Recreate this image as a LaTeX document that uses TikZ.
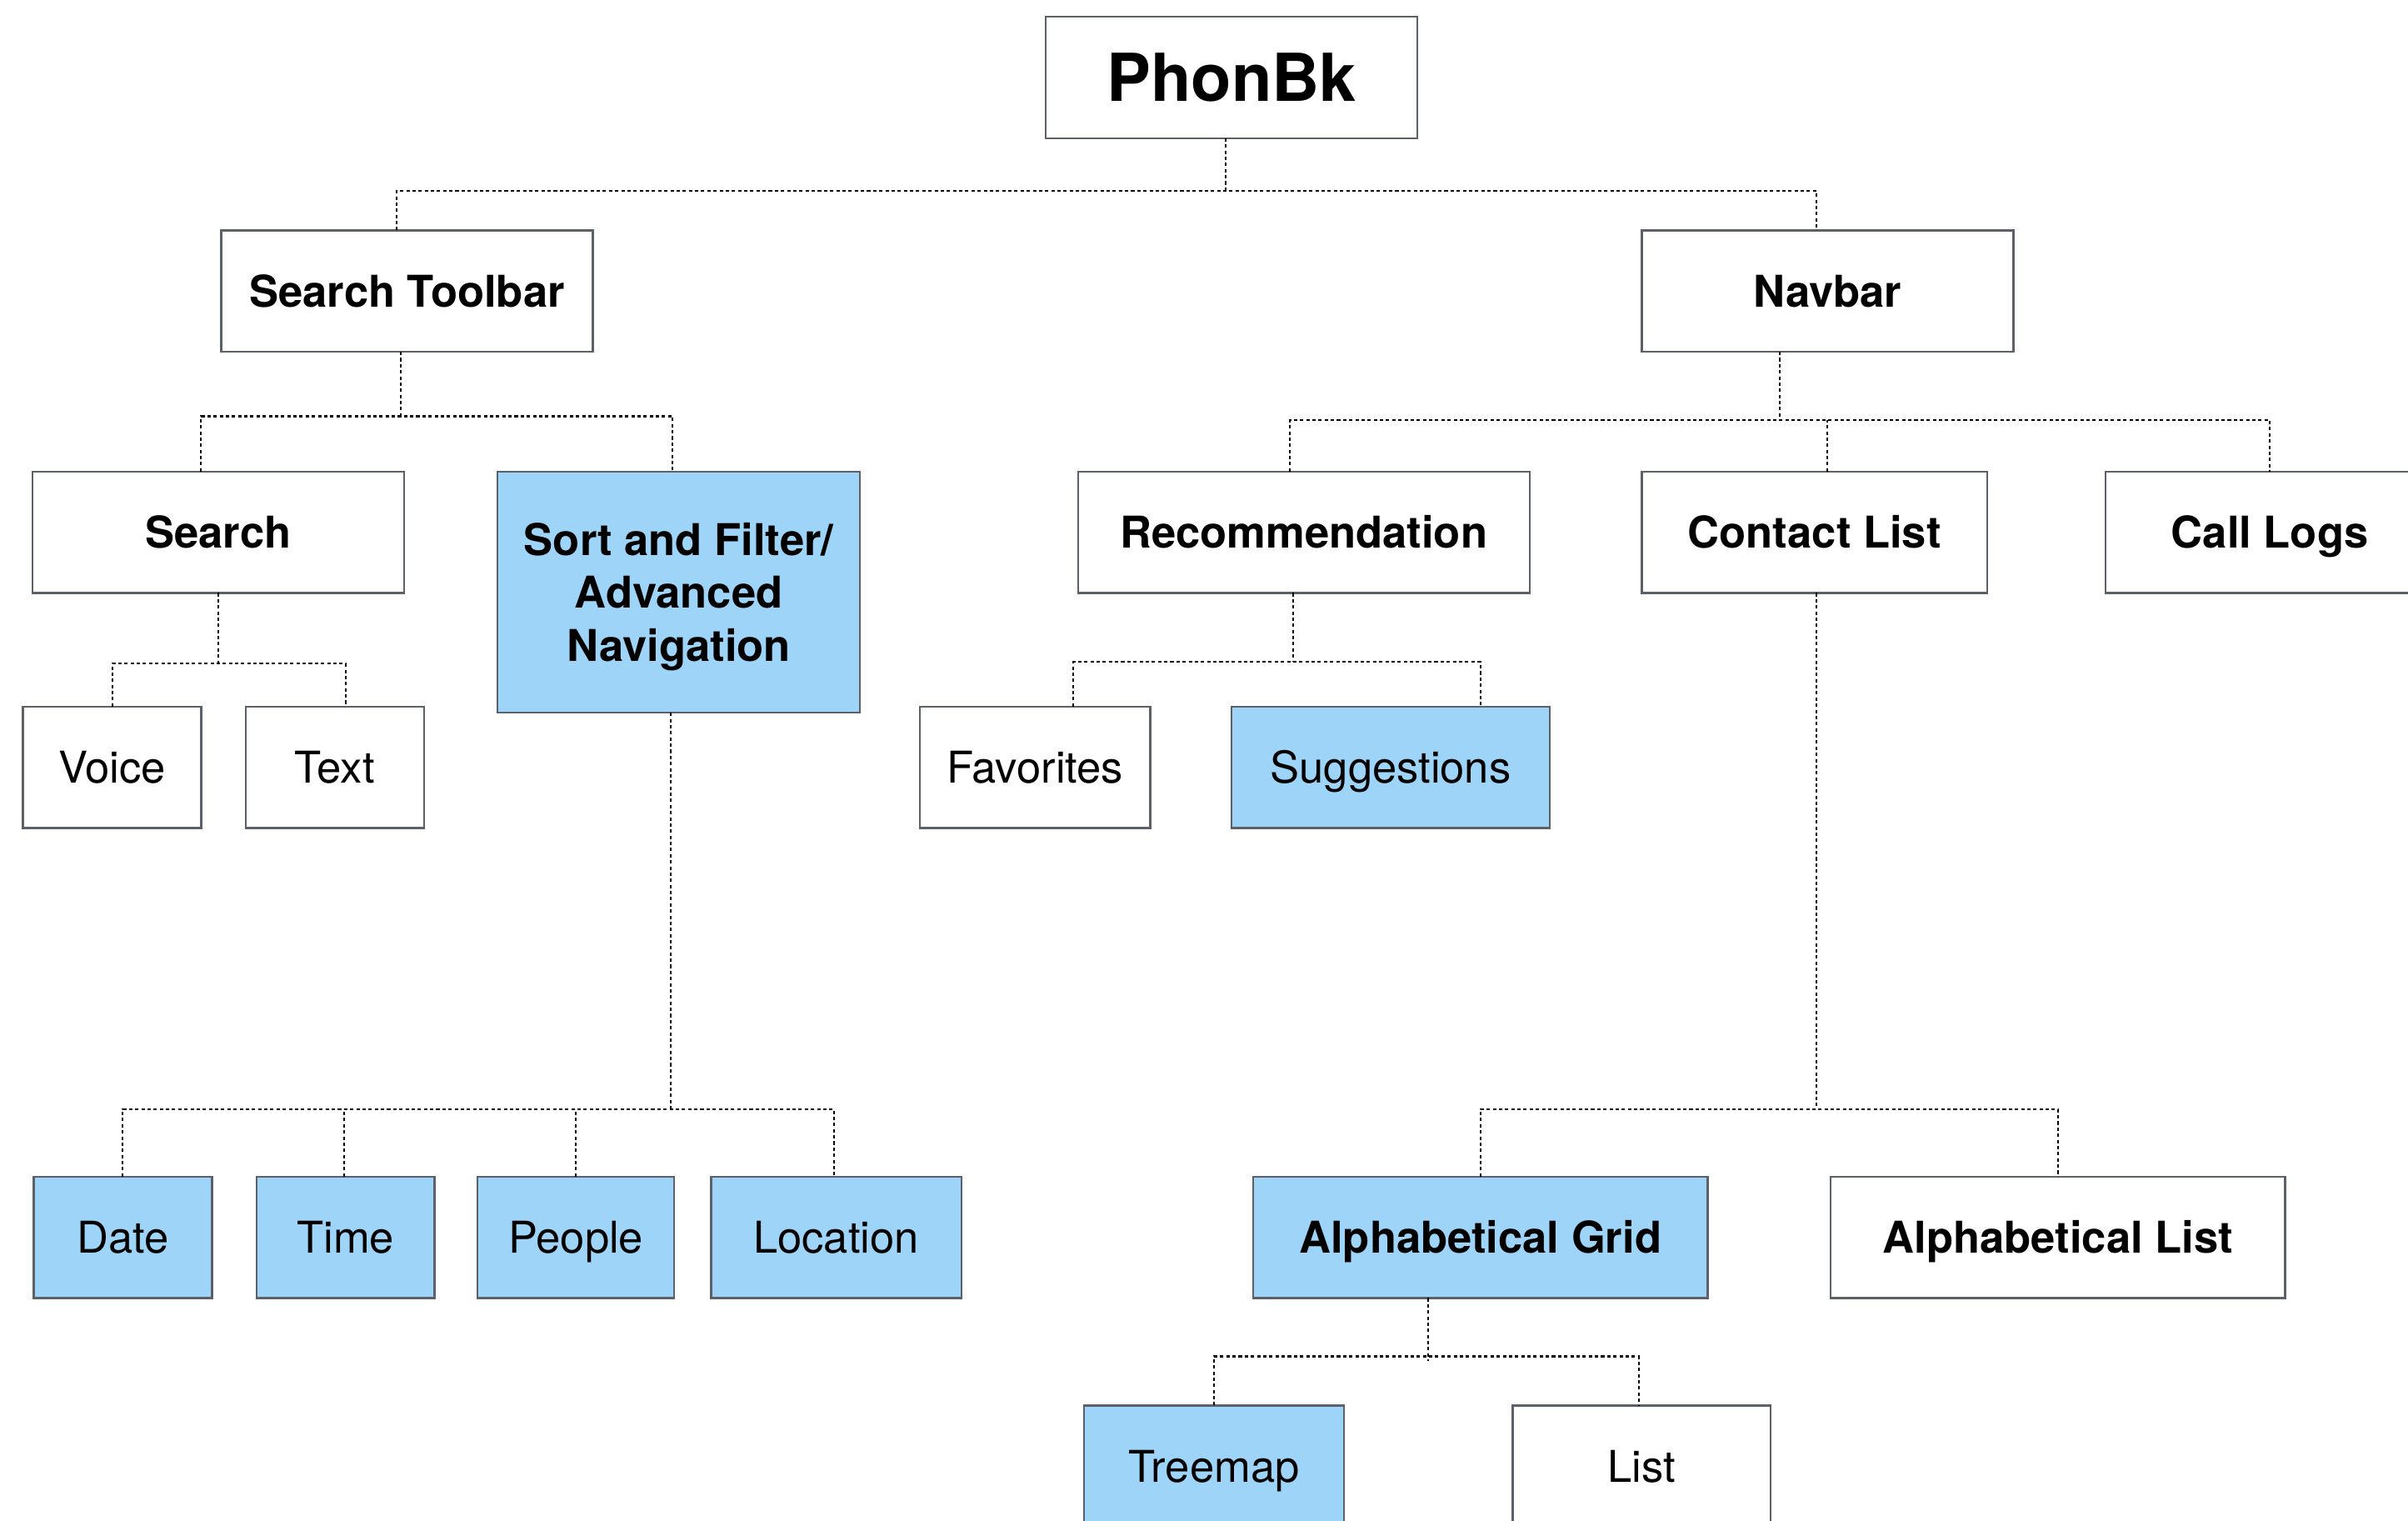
\documentclass[tikz,border=0pt]{standalone}
\usepackage{fontspec}
\setmainfont{TeX Gyre Heros}
\definecolor{boxline}{RGB}{92,96,104}
\definecolor{hl}{RGB}{157,212,248}
\tikzset{
  x=1pt,y=1pt,
  box/.style={draw=boxline,line width=1.3pt,fill=white,rectangle,inner sep=0pt,outer sep=0pt,
    minimum height=79pt,text=black,align=center,text height=20.5pt,text depth=0pt,
    font=\fontsize{28.5}{34.5}\selectfont},
  bbox/.style={box,font=\fontsize{28.5}{34.5}\selectfont\bfseries},
  blue/.style={fill=hl},
  conn/.style={draw=black,line width=1.1pt,dash pattern=on 2.2pt off 1.8pt}
}
\begin{document}
\begin{tikzpicture}
\useasboundingbox (0,0) rectangle (1568,-990);
\clip (0,0) rectangle (1568,-990);
\fill[white] (0,0) rectangle (1568,-990);
% nodes
\node[bbox,minimum width=242pt,text height=31pt,font=\fontsize{43}{50}\selectfont\bfseries] (phon) at (802,-50.5) {PhonBk};
\node[bbox,minimum width=242pt] (stb) at (265,-189.5) {Search Toolbar};
\node[bbox,minimum width=242pt] (nav) at (1190,-189.5) {Navbar};
\node[bbox,minimum width=242pt] (srch) at (142,-346.5) {Search};
\node[draw=boxline,line width=1.3pt,fill=hl,rectangle,inner sep=0pt,outer sep=0pt,minimum width=236pt,minimum height=157pt] (sort) at (442,-385.5) {};
\node[align=center,inner sep=0pt,font=\fontsize{28.5}{34.5}\selectfont\bfseries] (sortlbl) at ([yshift=-3pt]sort.center) {Sort and Filter/\\Advanced\\Navigation};
\node[bbox,minimum width=294pt] (rec) at (849,-346.5) {Recommendation};
\node[bbox,minimum width=225pt] (cl) at (1181.5,-346.5) {Contact List};
\node[bbox,minimum width=214pt] (logs) at (1478,-346.5) {Call Logs};
\node[box,minimum width=116pt] (voice) at (73,-499.5) {Voice};
\node[box,minimum width=116pt] (text) at (218,-499.5) {Text};
\node[box,minimum width=150pt] (fav) at (674,-499.5) {Favorites};
\node[box,blue,minimum width=207pt] (sug) at (905.5,-499.5) {Suggestions};
\node[box,blue,minimum width=116pt] (date) at (80,-805.5) {Date};
\node[box,blue,minimum width=116pt] (time) at (225,-805.5) {Time};
\node[box,blue,minimum width=128pt] (ppl) at (375,-805.5) {People};
\node[box,blue,minimum width=163pt] (loc) at (544.5,-805.5) {Location};
\node[bbox,blue,minimum width=296pt] (agrid) at (964,-805.5) {Alphabetical Grid};
\node[bbox,minimum width=296pt] (alist) at (1340,-805.5) {Alphabetical List};
\node[box,blue,minimum width=169pt] (tree) at (790.5,-954.5) {Treemap};
\node[box,minimum width=168pt] (list) at (1069,-954.5) {List};
% connectors
% PhonBk
\draw[conn] ([xshift=-4pt]phon.south) -- ++(0,-34.5) coordinate (b0);
\draw[conn] ([xshift=-7pt]stb.north) |- (b0) -| ([xshift=-7pt]nav.north);
% Search Toolbar
\draw[conn] ([xshift=-4pt]stb.south) -- ++(0,-42) coordinate (b1);
\draw[conn] ([xshift=-11pt]srch.north) |- (b1) -| ([xshift=-4pt]sort.north);
% Navbar
\draw[conn] ([xshift=-31pt]nav.south) -- ++(0,-44.5) coordinate (b2);
\draw[conn] ([xshift=-9pt]rec.north) |- (b2) -| (logs.north);
\draw[conn] ([xshift=8.5pt]cl.north) -- ([xshift=8.5pt]cl.north |- b2);
% Search
\draw[conn] (srch.south) -- ++(0,-46) coordinate (b3);
\draw[conn] (voice.north) |- (b3) -| ([xshift=7pt]text.north);
% Sort
\draw[conn] ([xshift=-5pt]sort.south) -- ++(0,-258) coordinate (b4);
\draw[conn] (date.north) |- (b4) -| ([xshift=-1.5pt]loc.north);
\draw[conn] ([xshift=-1pt]time.north) -- ([xshift=-1pt]time.north |- b4);
\draw[conn] (ppl.north) -- (ppl.north |- b4);
% Recommendation
\draw[conn] ([xshift=-7pt]rec.south) -- ++(0,-45) coordinate (b5);
\draw[conn] ([xshift=25pt]fav.north) |- (b5) -| ([xshift=58.5pt]sug.north);
% Contact List
\draw[conn] ([xshift=1.5pt]cl.south) -- ++(0,-336) coordinate (b6);
\draw[conn] (agrid.north) |- (b6) -| (alist.north);
% Alphabetical Grid
\draw[conn] ([xshift=-34pt]agrid.south) -- ++(0,-41) coordinate (b7end);
\coordinate (b7) at ([xshift=-34pt,yshift=-38pt]agrid.south);
\draw[conn] (tree.north) |- (b7) -| ([xshift=-2pt]list.north);
\end{tikzpicture}
\end{document}
